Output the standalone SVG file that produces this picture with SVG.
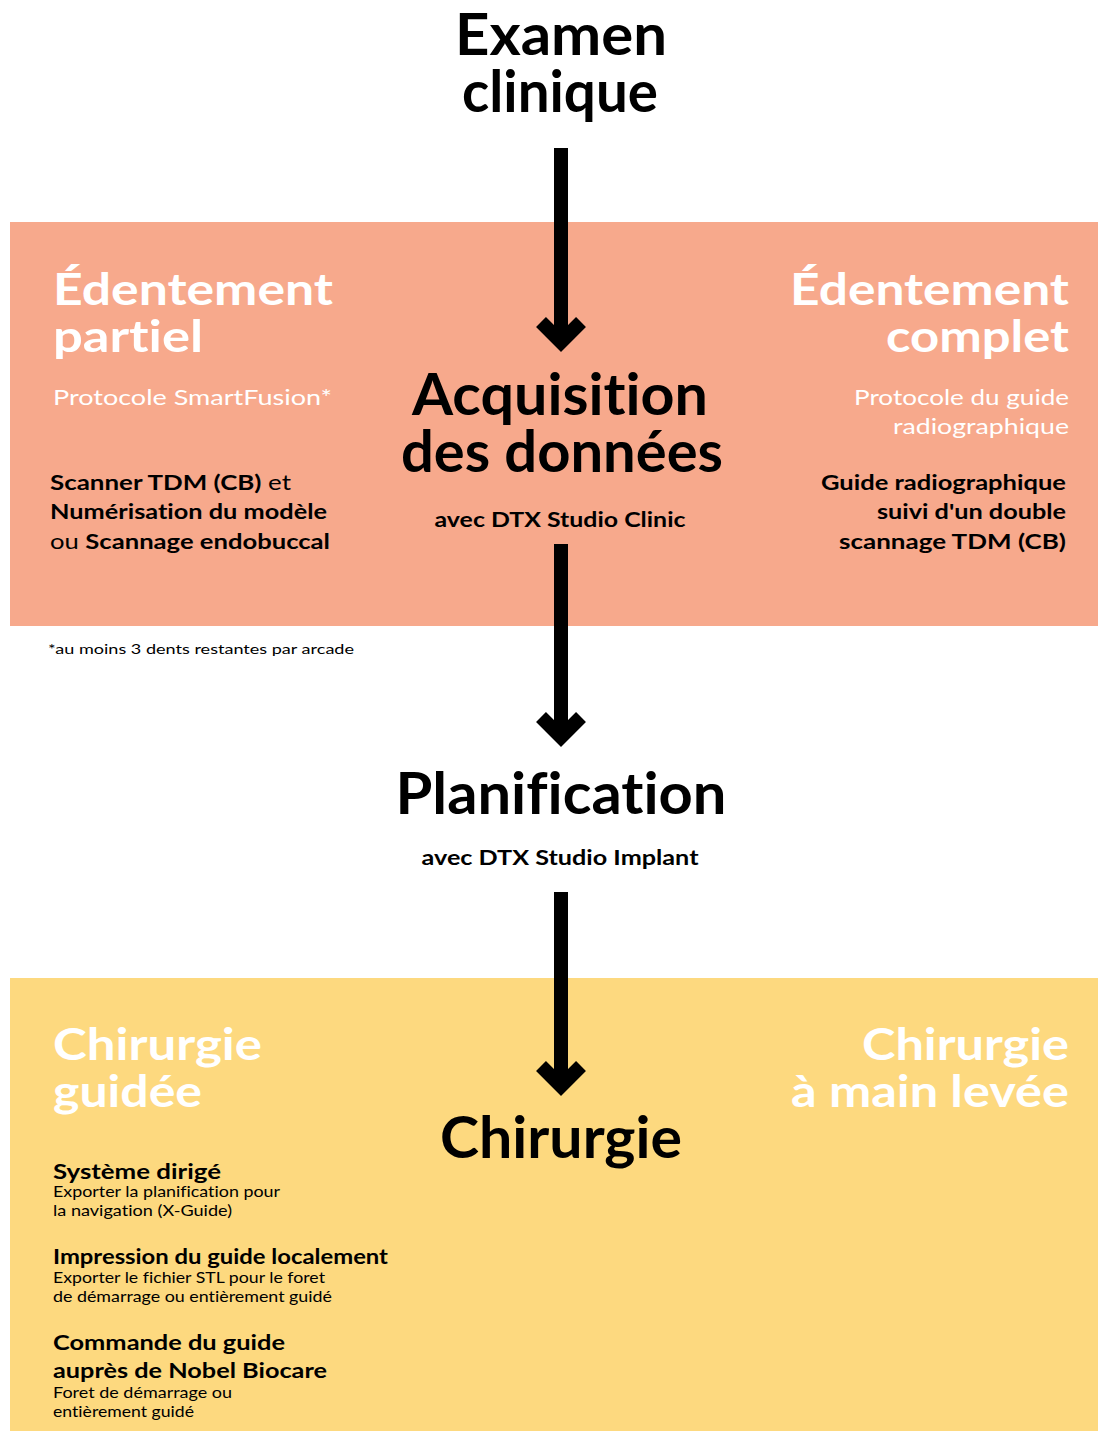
<svg xmlns="http://www.w3.org/2000/svg" width="1098" height="1431" viewBox="0 0 1098 1431">
<style>
text{font-family:Lato,"Noto Sans","DejaVu Sans",sans-serif;fill:#000;font-variant-ligatures:none}
.h{font-weight:700;font-size:57px}
.hw{font-weight:700;font-size:44px;fill:#fff}
.lt{font-weight:400;font-size:22px;fill:#fff}
.b{font-weight:700;font-size:21px}
.r{font-weight:400}
.sub{font-weight:700;font-size:20px}
.d{font-weight:400;font-size:15px}
.fn{font-weight:400;font-size:14px}
.c{text-anchor:middle}
.e{text-anchor:end}
.arrow{fill:none;stroke:#000;stroke-width:14;stroke-linejoin:miter;stroke-linecap:butt}
</style>
<rect width="1098" height="1431" fill="#fff"/>
<g id="band-acquisition"><rect x="10" y="222" width="1088" height="404" fill="#F7A98C"/></g>
<g id="band-chirurgie"><rect x="10" y="978" width="1088" height="453" fill="#FDD97F"/></g>

<g id="connectors">
<path class="arrow" d="M561 148V342M541 322L561 342L581 322"/>
<path class="arrow" d="M561 544V737M541 717L561 737L581 717"/>
<path class="arrow" d="M561 892V1086M541 1066L561 1086L581 1066"/>
</g>

<g id="examen-clinique">
<text class="h c"><tspan x="561" y="55" textLength="212" lengthAdjust="spacingAndGlyphs">Examen</tspan><tspan x="560" y="112" textLength="196" lengthAdjust="spacingAndGlyphs">clinique</tspan></text>
</g>

<g id="edentement-partiel">
<text class="hw"><tspan x="53" y="305" textLength="280" lengthAdjust="spacingAndGlyphs">Édentement</tspan><tspan x="53" y="352" textLength="150" lengthAdjust="spacingAndGlyphs">partiel</tspan></text>
<text class="lt" x="53" y="405" textLength="279" lengthAdjust="spacingAndGlyphs">Protocole SmartFusion*</text>
<text class="b" x="50" y="490" textLength="241" lengthAdjust="spacingAndGlyphs">Scanner TDM (CB)<tspan class="r"> et</tspan></text>
<text class="b" x="50" y="519" textLength="277" lengthAdjust="spacingAndGlyphs">Numérisation du modèle</text>
<text class="b" x="50" y="549" textLength="280" lengthAdjust="spacingAndGlyphs"><tspan class="r">ou </tspan>Scannage endobuccal</text>
</g>

<g id="acquisition">
<text class="h c"><tspan x="560" y="415" textLength="296" lengthAdjust="spacingAndGlyphs">Acquisition</tspan><tspan x="562" y="472" textLength="322" lengthAdjust="spacingAndGlyphs">des données</tspan></text>
<text class="sub c" x="560" y="527" textLength="251" lengthAdjust="spacingAndGlyphs">avec DTX Studio Clinic</text>
</g>

<g id="edentement-complet">
<text class="hw e"><tspan x="1069" y="305" textLength="279" lengthAdjust="spacingAndGlyphs">Édentement</tspan><tspan x="1069" y="352" textLength="183" lengthAdjust="spacingAndGlyphs">complet</tspan></text>
<text class="lt e" x="1069" y="405" textLength="215" lengthAdjust="spacingAndGlyphs">Protocole du guide</text>
<text class="lt e" x="1069" y="434" textLength="176" lengthAdjust="spacingAndGlyphs">radiographique</text>
<text class="b e" x="1066" y="490" textLength="245" lengthAdjust="spacingAndGlyphs">Guide radiographique</text>
<text class="b e" x="1066" y="519" textLength="189" lengthAdjust="spacingAndGlyphs">suivi d'un double</text>
<text class="b e" x="1066" y="549" textLength="227" lengthAdjust="spacingAndGlyphs">scannage TDM (CB)</text>
</g>

<g id="footnote">
<text class="fn" x="48" y="654" textLength="306" lengthAdjust="spacingAndGlyphs">*au moins 3 dents restantes par arcade</text>
</g>

<g id="planification">
<text class="h c" x="561" y="814" textLength="331" lengthAdjust="spacingAndGlyphs">Planification</text>
<text class="sub c" x="560" y="865" textLength="277" lengthAdjust="spacingAndGlyphs">avec DTX Studio Implant</text>
</g>

<g id="chirurgie-guidee">
<text class="hw"><tspan x="53" y="1060" textLength="209" lengthAdjust="spacingAndGlyphs">Chirurgie</tspan><tspan x="53" y="1107" textLength="149" lengthAdjust="spacingAndGlyphs">guidée</tspan></text>
<text class="b" x="53" y="1179" textLength="168" lengthAdjust="spacingAndGlyphs">Système dirigé</text>
<text class="d" x="53" y="1197" textLength="227" lengthAdjust="spacingAndGlyphs">Exporter la planification pour</text>
<text class="d" x="53" y="1216" textLength="179" lengthAdjust="spacingAndGlyphs">la navigation (X-Guide)</text>
<text class="b" x="53" y="1264" textLength="335" lengthAdjust="spacingAndGlyphs">Impression du guide localement</text>
<text class="d" x="53" y="1283" textLength="272" lengthAdjust="spacingAndGlyphs">Exporter le fichier STL pour le foret</text>
<text class="d" x="53" y="1302" textLength="279" lengthAdjust="spacingAndGlyphs">de démarrage ou entièrement guidé</text>
<text class="b" x="53" y="1350" textLength="232" lengthAdjust="spacingAndGlyphs">Commande du guide</text>
<text class="b" x="53" y="1378" textLength="274" lengthAdjust="spacingAndGlyphs">auprès de Nobel Biocare</text>
<text class="d" x="53" y="1398" textLength="179" lengthAdjust="spacingAndGlyphs">Foret de démarrage ou</text>
<text class="d" x="53" y="1417" textLength="141" lengthAdjust="spacingAndGlyphs">entièrement guidé</text>
</g>

<g id="chirurgie">
<text class="h c" x="561" y="1158" textLength="242" lengthAdjust="spacingAndGlyphs">Chirurgie</text>
</g>

<g id="chirurgie-main-levee">
<text class="hw e"><tspan x="1069" y="1060" textLength="207" lengthAdjust="spacingAndGlyphs">Chirurgie</tspan><tspan x="1069" y="1107" textLength="278" lengthAdjust="spacingAndGlyphs">à main levée</tspan></text>
</g>
</svg>
